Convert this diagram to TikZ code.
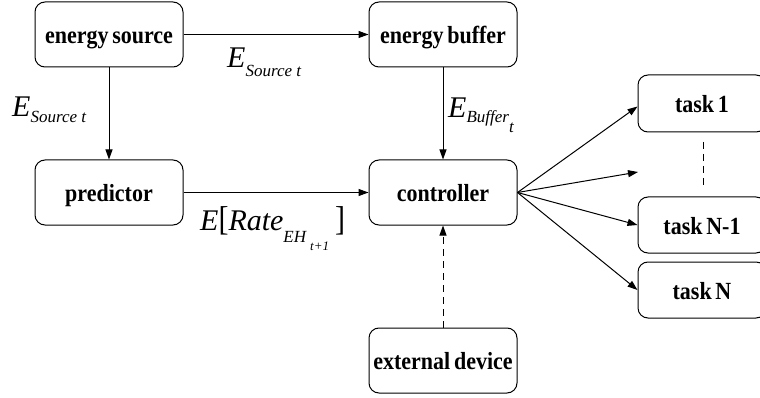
\documentclass[tikz,border=0pt]{standalone}
\usepackage{fontspec}
\usepackage{graphicx}
\setmainfont{Liberation Serif}
\usetikzlibrary{arrows.meta,calc}

% text sizes for the formula labels
\newcommand{\symE}[1]{{\fontsize{30}{30}\selectfont\itshape #1}}
\newcommand{\symS}[1]{{\fontsize{17}{17}\selectfont\itshape #1}}
\newcommand{\symSS}[1]{{\fontsize{13}{13}\selectfont\itshape #1}}
% slightly tall bold lettering with narrow word spaces inside the blocks
\newcommand{\btxt}[1]{{\spaceskip 0.17em\relax\scalebox{1}[1.12]{#1}}}

\tikzset{
  block/.style={draw, line width=1pt, rounded corners=10pt,
    minimum width=148pt, minimum height=65pt, inner sep=0pt,
    text height=20pt, text depth=2pt,
    font=\fontsize{22}{22}\selectfont\bfseries},
  taskbox/.style={block, minimum width=128pt, minimum height=56pt},
  arr/.style={line width=1pt, -{Triangle[length=10pt,width=7pt]}},
  darr/.style={arr, dash pattern=on 7pt off 5pt},
  lbl/.style={inner sep=0pt, anchor=base west},
}

\begin{document}
\begin{tikzpicture}[x=1pt,y=-1pt]
\useasboundingbox (0,0) rectangle (760,398);
\clip (0,0) rectangle (760,398);

% blocks
\node[block] (es) at (109,34.5) {\btxt{energy source}};
\node[block] (eb) at (443,34.5) {\btxt{energy buffer}};
\node[block] (pr) at (109,192.5) {\btxt{predictor}};
\node[block] (ct) at (443,192.5) {\btxt{controller}};
\node[block] (ed) at (443,360.5) {\btxt{external device}};
\node[taskbox, minimum height=57pt] (t1) at (702,103.5) {\btxt{task 1}};
\node[taskbox] (tn1) at (702,225) {\btxt{task N-1}};
\node[taskbox] (tn) at (702,290) {\btxt{task N}};

% energy and prediction flows
\draw[arr] (es) -- (eb);
\draw[arr] (es) -- (pr);
\draw[arr] (pr) -- (ct);
\draw[arr] (eb) -- (ct);
\draw[darr] (ed) -- (ct);

% controller to tasks
\coordinate (mid) at (638,172);
\draw[arr] (ct.east) -- ($(t1.west)+(0,3)$);
\draw[arr] (ct.east) -- (mid);
\draw[arr] (ct.east) -- (tn1.west);
\draw[arr] (ct.east) -- (tn.west);

% ellipsis between task 1 and task N-1
\coordinate (dtop) at (703,142);
\coordinate (dbot) at (703,188);
\draw[line width=1pt, dash pattern=on 7pt off 5pt] (dtop) -- (dbot);

% formula labels
\node[lbl] (lsrc1) at (227,68) {\symE{E}\raisebox{-9pt}{\symS{Source t}}};
\node[lbl] (lsrc2) at (12,117) {\symE{E}\raisebox{-6pt}{\symS{Source t}}};
\node[lbl] (lbuf) at (448,118) {\symE{E}\raisebox{-5pt}{\symS{Buffer}\raisebox{-10pt}{\symS{t}}}};
\node[lbl] (lrate) at (200,230) {\symE{E{\upshape\scalebox{1}[1.15]{[}}Rate}\raisebox{-12pt}{{\fontsize{17}{17}\selectfont\itshape EH}\hspace{4pt}\raisebox{-8pt}{\symSS{t+1}}}\hspace{6pt}\symE{\upshape\scalebox{1}[1.15]{]}}};
\end{tikzpicture}
\end{document}
